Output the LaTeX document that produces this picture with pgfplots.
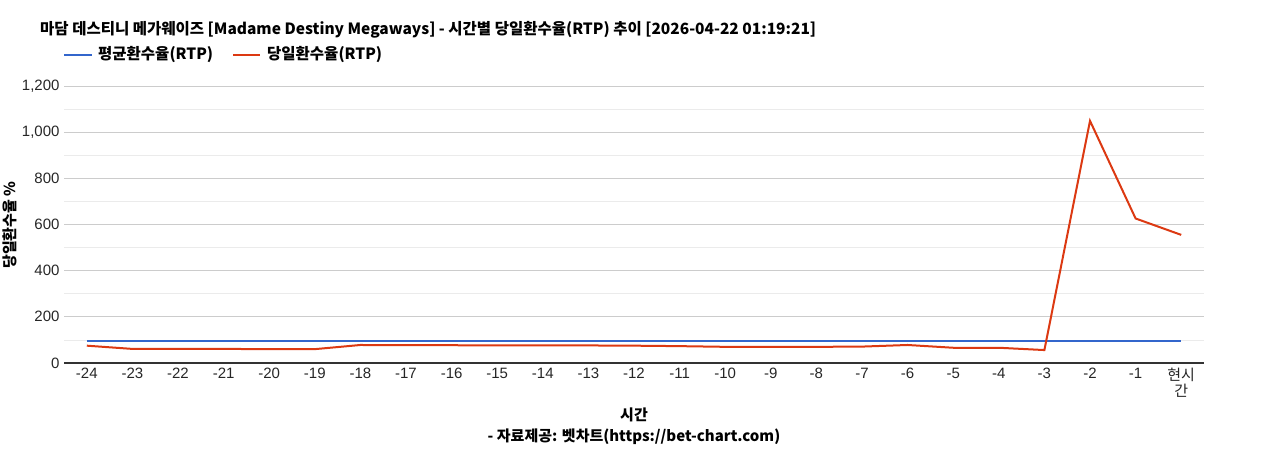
\documentclass[border=0pt]{standalone}
\usepackage{fontspec}
\setmainfont{Liberation Sans}
\newfontfamily\kr{Noto Sans CJK KR}
\usepackage{pgfplots}
\pgfplotsset{compat=1.18}
\definecolor{avgblue}{HTML}{3366CC}
\definecolor{dayred}{HTML}{DC3912}
\definecolor{gridmaj}{HTML}{CCCCCC}
\definecolor{gridmin}{HTML}{EBEBEB}
\definecolor{axisdark}{HTML}{333333}
\pgfplotstableread{
x avg day
0 96.5 75
1 96.5 61
2 96.5 61
3 96.5 61
4 96.5 60
5 96.5 60
6 96.5 78
7 96.5 77
8 96.5 77
9 96.5 76
10 96.5 76
11 96.5 76
12 96.5 75
13 96.5 73
14 96.5 70
15 96.5 70
16 96.5 70
17 96.5 71
18 96.5 78
19 96.5 66
20 96.5 66
21 96.5 56
22 96.5 1049
23 96.5 626
24 96.5 555
}\rtp
\begin{document}
\begin{tikzpicture}[x=1bp,y=1bp]
\useasboundingbox (0,0) rectangle (1268,450);
\begin{axis}[
  at={(64bp,87bp)}, anchor=south west,
  width=1140bp, height=277bp, scale only axis,
  xmin=-0.5, xmax=24.5, ymin=0, ymax=1200,
  xtick={0,...,24},
  xticklabels={-24,-23,-22,-21,-20,-19,-18,-17,-16,-15,-14,-13,-12,-11,-10,-9,-8,-7,-6,-5,-4,-3,-2,-1,{\kr 현시\\\kr 간}},
  ytick={0,200,...,1200},
  minor ytick={100,300,...,1100},
  ymajorgrids, yminorgrids,
  major grid style={color=gridmaj, line width=0.8bp},
  minor grid style={color=gridmin, line width=0.8bp},
  axis x line*=bottom, axis y line*=left,
  x axis line style={color=axisdark, line width=1.2bp},
  y axis line style={draw=none},
  major tick length=0pt, minor tick length=0pt,
  tick style={draw=none},
  /pgf/number format/1000 sep={,},
  /pgf/number format/assume math mode=true,
  ticklabel style={font=\fontsize{15bp}{16bp}\selectfont, color=black!85},
  xticklabel style={align=center, yshift=-2bp},
  yticklabel style={xshift=-1bp},
  clip=false,
]
\addplot[avgblue, line width=2bp] table[x=x, y=avg] {\rtp};
\addplot[dayred, line width=2bp] table[x=x, y=day] {\rtp};
\end{axis}
\node[anchor=west, inner sep=0pt, font=\kr\bfseries\fontsize{15.5bp}{17bp}\selectfont] at (40,420) {마담 데스티니 메가웨이즈 [Madame Destiny Megaways] - 시간별 당일환수율(RTP) 추이 [2026-04-22 01:19:21]};
\draw[avgblue, line width=2.5bp] (64,395) -- (92,395);
\node[anchor=west, inner sep=0pt, font=\kr\bfseries\fontsize{15.5bp}{17bp}\selectfont] at (98,395) {평균환수율(RTP)};
\draw[dayred, line width=2.5bp] (233,395) -- (260,395);
\node[anchor=west, inner sep=0pt, font=\kr\bfseries\fontsize{15.5bp}{17bp}\selectfont] at (267,395) {당일환수율(RTP)};
\node[rotate=90, font=\kr\bfseries\fontsize{15bp}{17bp}\selectfont] at (10,225) {당일환수율 \%};
\node[font=\kr\bfseries\fontsize{15bp}{17bp}\selectfont] at (634,35) {시간};
\node[font=\kr\bfseries\fontsize{15bp}{17bp}\selectfont] at (634,13) {- 자료제공: 벳차트(https://bet-chart.com)};
\end{tikzpicture}
\end{document}
